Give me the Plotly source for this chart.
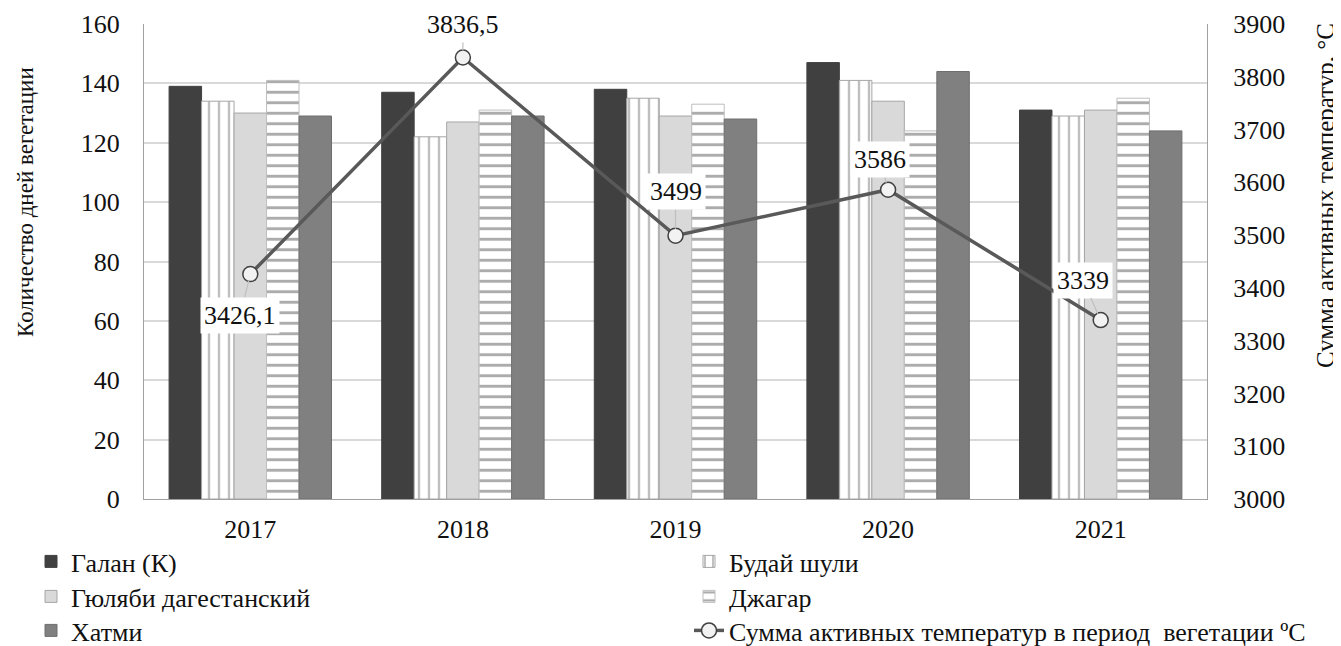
import plotly.graph_objects as go

years = ["2017", "2018", "2019", "2020", "2021"]
galan = [139, 137, 138, 147, 131]
buday = [134, 122, 135, 141, 129]
gulyabi = [130, 127, 129, 134, 131]
dzhagar = [141, 131, 133, 124, 135]
hatmi = [129, 129, 128, 144, 124]
temp_sum = [3426.1, 3836.5, 3499, 3586, 3339]
temp_labels = ["3426,1", "3836,5", "3499", "3586", "3339"]
left_ticks = [0, 20, 40, 60, 80, 100, 120, 140, 160]
right_ticks = [3000, 3100, 3200, 3300, 3400, 3500, 3600, 3700, 3800, 3900]

FONT = "Liberation Serif"
FS = 26
W, H = 1333, 638  # page body has an 8px margin

xpos = list(range(len(years)))

fig = go.Figure()

fig.add_trace(go.Bar(
    x=xpos, y=galan, name="Галан (К)", legend="legend",
    marker=dict(color="#404040", line=dict(color="#404040", width=1)),
))
fig.add_trace(go.Bar(
    x=xpos, y=buday, name="Будай шули", legend="legend2",
    marker=dict(color="white", line=dict(color="#a6a6a6", width=1),
                pattern=dict(shape="|", fgcolor="#7f7f7f", size=10, solidity=0.24)),
))
fig.add_trace(go.Bar(
    x=xpos, y=gulyabi, name="Гюляби дагестанский", legend="legend3",
    marker=dict(color="#d9d9d9", line=dict(color="#a6a6a6", width=1)),
))
fig.add_trace(go.Bar(
    x=xpos, y=dzhagar, name="Джагар", legend="legend4",
    marker=dict(color="white", line=dict(color="#bfbfbf", width=1),
                pattern=dict(shape="-", fgcolor="#595959", size=10.5, solidity=0.28)),
))
fig.add_trace(go.Bar(
    x=xpos, y=hatmi, name="Хатми", legend="legend5",
    marker=dict(color="#808080", line=dict(color="#6e6e6e", width=1)),
))
fig.add_trace(go.Scatter(
    x=xpos, y=temp_sum, yaxis="y2", mode="lines+markers", legend="legend6",
    name="Сумма активных температур в период\u00a0 вегетации ºC",
    line=dict(color="#595959", width=3.5),
    marker=dict(symbol="circle", size=15, color="#f2f2f2",
                line=dict(color="#404040", width=1.5)),
))

offsets = [(-10, 41), (0, -33), (0, -44), (-8, -30), (-18, -40)]
for xp, v, lab, (ax, ay) in zip(xpos, temp_sum, temp_labels, offsets):
    fig.add_annotation(
        x=xp, y=v, xref="x", yref="y2", text=lab,
        showarrow=True, arrowhead=0, arrowwidth=1.2, arrowcolor="#bfbfbf",
        standoff=7, ax=ax, ay=ay,
        bgcolor="white", borderpad=3,
        font=dict(family=FONT, size=FS, color="#111"),
    )

fig.add_annotation(
    text="Количество дней вегетации", xref="paper", yref="paper",
    x=-0.112, y=0.625, textangle=-90, showarrow=False,
    xanchor="center", yanchor="middle",
    font=dict(family=FONT, size=23, color="#111"),
)
fig.add_annotation(
    text="Сумма активных температур, °С", xref="paper", yref="paper",
    x=1.111, y=0.64, textangle=-90, showarrow=False,
    xanchor="center", yanchor="middle",
    font=dict(family=FONT, size=25, color="#111"),
)


def leg(px, py):
    return dict(
        orientation="v", xref="container", yref="container",
        x=px / W, y=1 - py / H, xanchor="left", yanchor="top",
        font=dict(family=FONT, size=FS, color="#111"),
        bgcolor="rgba(0,0,0,0)",
    )


LX, RX = 23, 681
R1, R2, R3 = 530, 565, 599

fig.update_layout(
    width=W, height=H,
    margin=dict(l=136, r=134, t=16, b=147, autoexpand=False),
    paper_bgcolor="white", plot_bgcolor="white",
    barmode="group", bargap=0.236, bargroupgap=0,
    font=dict(family=FONT, size=FS, color="#111"),
    xaxis=dict(
        range=[-0.5, 4.5], tickvals=xpos, ticktext=years,
        showline=True, linecolor="#a0a0a0", linewidth=1, showgrid=False,
        zeroline=False, automargin=False,
        ticks="outside", ticklen=7, tickcolor="rgba(0,0,0,0)",
        tickfont=dict(family=FONT, size=FS),
    ),
    yaxis=dict(
        range=[0, 160], tickvals=left_ticks, showline=True, linecolor="#a0a0a0",
        linewidth=1, gridcolor="#d9d9d9", gridwidth=1.5, zeroline=False,
        automargin=False,
        ticks="outside", ticklen=18, tickcolor="rgba(0,0,0,0)",
        tickfont=dict(family=FONT, size=FS),
    ),
    yaxis2=dict(
        range=[3000, 3900], tickvals=right_ticks, overlaying="y", side="right",
        showline=True, linecolor="#a0a0a0", linewidth=1, showgrid=False,
        zeroline=False, automargin=False,
        ticks="outside", ticklen=20, tickcolor="rgba(0,0,0,0)",
        tickfont=dict(family=FONT, size=FS),
    ),
    legend=leg(LX, R1),
    legend2=leg(RX, R1),
    legend3=leg(LX, R2),
    legend4=leg(RX, R2),
    legend5=leg(LX, R3),
    legend6=leg(RX, R3),
    showlegend=True,
)

fig.write_html("out.html")
